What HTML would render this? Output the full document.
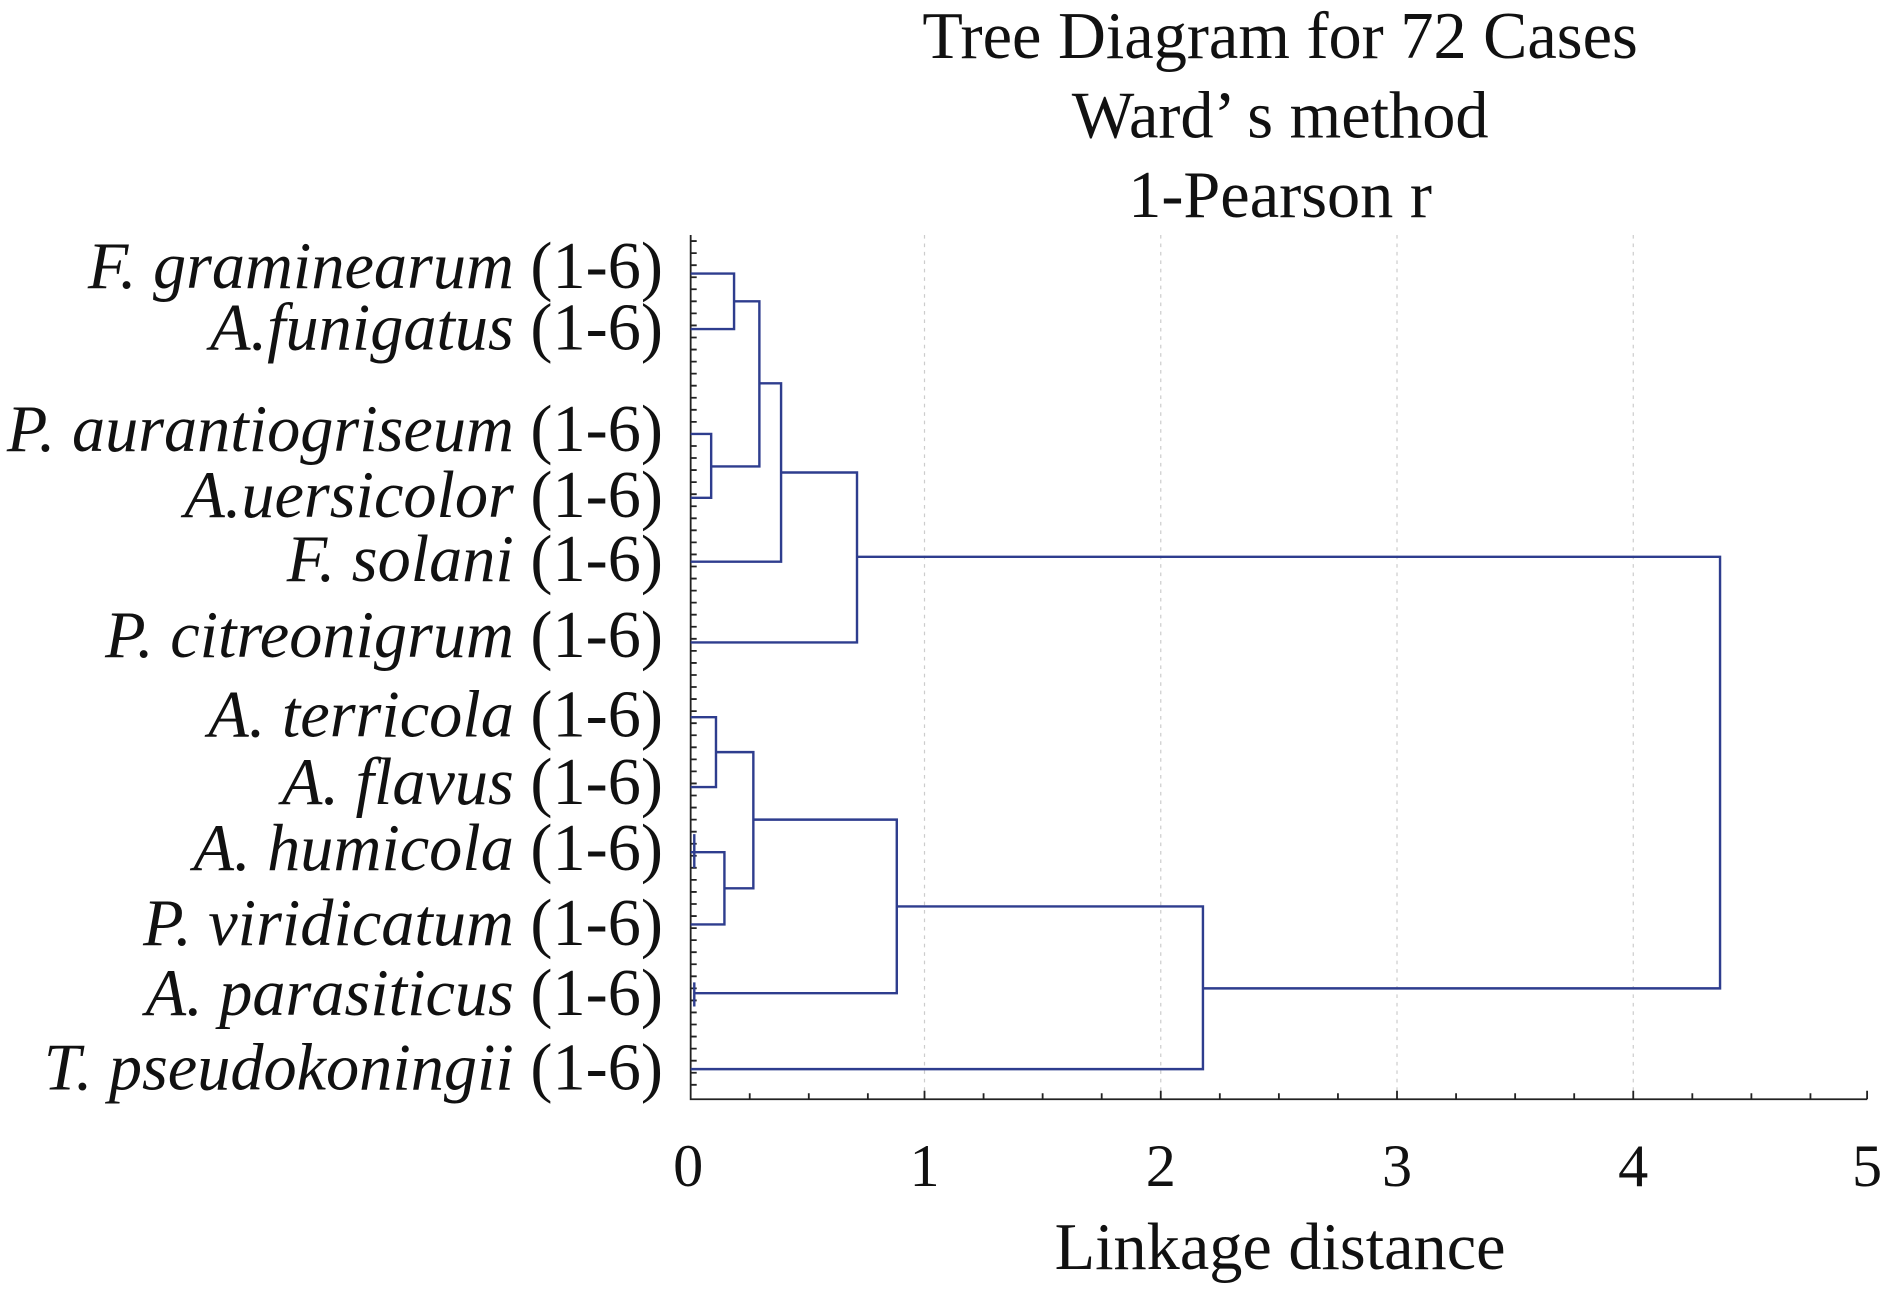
<!DOCTYPE html>
<html><head><style>html,body{margin:0;padding:0;background:#fff;overflow:hidden}</style></head>
<body>
<svg width="1890" height="1288" viewBox="0 0 1568 1068.6" preserveAspectRatio="none" xmlns="http://www.w3.org/2000/svg" font-family="'Liberation Serif', serif">
<rect width="1568" height="1069" fill="#fff"/>
<g fill="#111" font-size="55" text-anchor="middle">
<text x="1062" y="48">Tree Diagram for 72 Cases</text>
<text x="1062" y="114">Ward’ s method</text>
<text x="1062" y="180">1-Pearson r</text>
<text x="1062" y="1053">Linkage distance</text>
</g>
<g stroke="#ccc" stroke-width="1" stroke-dasharray="3,4">
<line x1="767" y1="195" x2="767" y2="912"/><line x1="963" y1="195" x2="963" y2="912"/>
<line x1="1159" y1="195" x2="1159" y2="912"/><line x1="1355" y1="195" x2="1355" y2="912"/>
</g>
<g stroke="#222" stroke-width="1.5" fill="none">
<path d="M573 195 V912 H1549"/>
<path d="M573 200h5 M573 210h5 M573 220h5 M573 230h5 M573 240h5 M573 250h5 M573 260h5 M573 270h5 M573 280h5 M573 290h5 M573 300h5 M573 310h5 M573 320h5 M573 330h5 M573 340h5 M573 350h5 M573 360h5 M573 370h5 M573 380h5 M573 390h5 M573 400h5 M573 410h5 M573 420h5 M573 430h5 M573 440h5 M573 450h5 M573 460h5 M573 470h5 M573 480h5 M573 490h5 M573 500h5 M573 510h5 M573 520h5 M573 530h5 M573 540h5 M573 550h5 M573 560h5 M573 570h5 M573 580h5 M573 590h5 M573 600h5 M573 610h5 M573 620h5 M573 630h5 M573 640h5 M573 650h5 M573 660h5 M573 670h5 M573 680h5 M573 690h5 M573 700h5 M573 710h5 M573 720h5 M573 730h5 M573 740h5 M573 750h5 M573 760h5 M573 770h5 M573 780h5 M573 790h5 M573 800h5 M573 810h5 M573 820h5 M573 830h5 M573 840h5 M573 850h5 M573 860h5 M573 870h5 M573 880h5 M573 890h5 M573 900h5"/>
<path d="M622 912v-5 M671 912v-5 M720 912v-5 M767 912v-7 M816 912v-5 M865 912v-5 M914 912v-5 M963 912v-7 M1012 912v-5 M1061 912v-5 M1110 912v-5 M1159 912v-7 M1208 912v-5 M1257 912v-5 M1306 912v-5 M1355 912v-7 M1404 912v-5 M1453 912v-5 M1502 912v-5 M1549 912v-7"/>
</g>
<g stroke="#2e3d8e" stroke-width="2" fill="none">
<path d="M573 227H609V273H573 M609 250H630V387H590 M573 360H590V413H573 M630 318H648V466H573 M648 392H711V533H573 M711 462H1427V820H998"/>
<path d="M573 595H594V653H573 M594 624H625V737H601 M576 707H601V767H573 M625 680H744V824H576 M744 752H998V887H573 M576 692V720 M576 815V835 M573 707H576"/>
</g>
<g fill="#111" font-size="50" text-anchor="middle">
<text x="571" y="984">0</text><text x="767" y="984">1</text><text x="963" y="984">2</text>
<text x="1159" y="984">3</text><text x="1355" y="984">4</text><text x="1549" y="984">5</text>
</g>
<g fill="#111" font-size="55" text-anchor="end">
<text x="550" y="239"><tspan font-style="italic">F. graminearum</tspan> (1-6)</text>
<text x="550" y="290"><tspan font-style="italic">A.funigatus</tspan> (1-6)</text>
<text x="550" y="374"><tspan font-style="italic">P. aurantiogriseum</tspan> (1-6)</text>
<text x="550" y="429"><tspan font-style="italic">A.uersicolor</tspan> (1-6)</text>
<text x="550" y="482"><tspan font-style="italic">F. solani</tspan> (1-6)</text>
<text x="550" y="545"><tspan font-style="italic">P. citreonigrum</tspan> (1-6)</text>
<text x="550" y="611"><tspan font-style="italic">A. terricola</tspan> (1-6)</text>
<text x="550" y="667"><tspan font-style="italic">A. flavus</tspan> (1-6)</text>
<text x="550" y="722"><tspan font-style="italic">A. humicola</tspan> (1-6)</text>
<text x="550" y="784"><tspan font-style="italic">P. viridicatum</tspan> (1-6)</text>
<text x="550" y="842"><tspan font-style="italic">A. parasiticus</tspan> (1-6)</text>
<text x="550" y="904"><tspan font-style="italic">T. pseudokoningii</tspan> (1-6)</text>
</g>
</svg>
</body></html>
